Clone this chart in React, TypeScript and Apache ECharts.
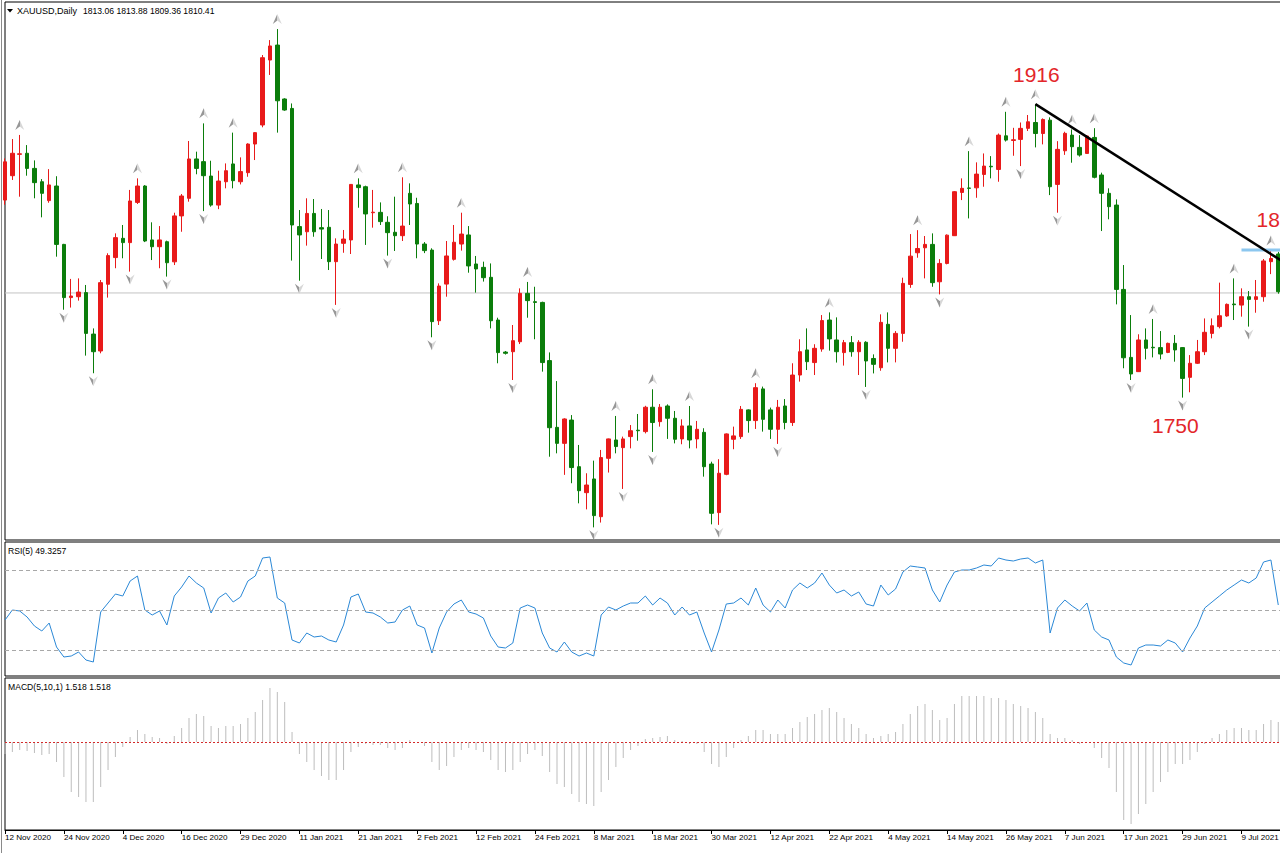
import React, { useEffect, useRef } from "react";
import * as echarts from "echarts";

const tickLabels = ["12 Nov 2020","24 Nov 2020","4 Dec 2020","16 Dec 2020","29 Dec 2020","11 Jan 2021","21 Jan 2021","2 Feb 2021","12 Feb 2021","24 Feb 2021","8 Mar 2021","18 Mar 2021","30 Mar 2021","12 Apr 2021","22 Apr 2021","4 May 2021","14 May 2021","26 May 2021","7 Jun 2021","17 Jun 2021","29 Jun 2021","9 Jul 2021"];

const opens = [1862.6,1876.3,1888.3,1888.9,1880.4,1872.9,1862.3,1870.5,1837.7,1807.8,
1808.3,1810.6,1787.3,1777.8,1815.3,1830.3,1841.1,1838.7,1861.3,1870.5,
1840.2,1836.4,1839.2,1827.9,1853.7,1863.6,1885.7,1884.2,1876.1,1859.8,
1872.9,1882.9,1872.9,1878.0,1894.1,1904.8,1941.3,1949.7,1919.4,1914.1,
1847.7,1844.8,1855.1,1847.1,1847.3,1828.0,1838.3,1840.2,1871.1,1870.1,
1855.5,1855.7,1850.1,1844.5,1842.6,1866.4,1860.7,1837.9,1834.5,1794.8,
1815.4,1829.3,1837.9,1843.0,1826.7,1824.8,1819.2,1795.2,1777.2,1777.4,
1783.0,1810.2,1805.5,1805.1,1772.4,1734.9,1725.9,1739.0,1712.8,1698.2,
1705.9,1684.7,1717.5,1727.8,1723.5,1729.7,1733.3,1732.5,1746.2,1738.1,
1746.9,1740.0,1728.4,1735.7,1728.4,1732.1,1714.3,1687.0,1708.5,1728.2,
1729.7,1744.7,1738.7,1756.5,1744.7,1733.8,1746.9,1737.6,1764.3,1778.4,
1771.3,1778.9,1795.2,1784.0,1776.9,1782.5,1777.4,1782.7,1773.6,1768.4,
1792.8,1779.3,1787.7,1815.2,1833.0,1835.8,1837.7,1816.7,1827.0,1842.6,
1866.9,1869.4,1869.5,1877.0,1881.6,1879.8,1898.7,1896.1,1896.7,1902.9,
1906.2,1900.0,1907.5,1871.4,1890.3,1899.1,1892.2,1888.8,1897.8,1876.7,
1866.4,1859.8,1812.4,1774.2,1766.2,1784.0,1779.9,1779.7,1777.0,1782.1,
1779.7,1763.0,1770.9,1777.4,1787.7,1791.5,1797.5,1804.2,1803.6,1808.3,
1806.8,1808.3,1828.0,1832.3];

const highs = [1886.0,1896.9,1899.2,1893.5,1884.9,1874.4,1880.0,1876.0,1838.0,1818.3,
1818.6,1814.9,1790.5,1817.7,1832.7,1843.9,1848.6,1868.3,1874.8,1871.0,
1850.1,1848.0,1839.8,1855.5,1866.0,1895.8,1889.8,1905.7,1884.7,1879.1,
1883.2,1900.5,1886.6,1894.5,1900.8,1944.1,1952.5,1958.7,1919.8,1916.9,
1857.0,1863.6,1863.2,1857.6,1857.0,1841.1,1845.8,1871.6,1874.8,1870.7,
1868.3,1861.3,1853.5,1864.5,1875.4,1872.0,1863.9,1839.0,1835.5,1815.8,
1839.6,1848.6,1855.5,1848.0,1831.2,1828.0,1827.0,1796.5,1777.8,1792.4,
1813.0,1816.6,1813.9,1805.5,1777.0,1760.9,1740.0,1741.8,1725.0,1709.1,
1716.2,1722.2,1728.6,1741.3,1729.7,1736.2,1742.4,1747.0,1756.3,1748.0,
1747.8,1744.1,1739.4,1746.9,1738.5,1734.4,1715.6,1717.0,1731.5,1735.3,
1746.9,1745.0,1759.7,1757.8,1746.0,1750.3,1750.8,1770.9,1784.4,1790.5,
1781.6,1798.0,1799.5,1796.7,1784.0,1786.2,1783.9,1783.3,1775.9,1798.4,
1799.5,1789.0,1819.0,1843.5,1845.7,1842.4,1843.9,1829.4,1843.3,1867.7,
1874.8,1890.1,1883.8,1888.8,1887.3,1900.0,1912.2,1903.2,1906.2,1910.4,
1916.5,1908.5,1909.1,1895.7,1901.0,1902.3,1899.1,1899.1,1903.0,1878.0,
1869.2,1863.0,1826.1,1798.0,1787.2,1790.5,1795.8,1789.0,1782.5,1786.8,
1780.0,1775.5,1784.0,1796.1,1796.1,1816.2,1804.5,1818.6,1813.0,1811.5,
1817.7,1829.5,1834.2,1833.5];

const lows = [1860.0,1873.9,1864.5,1876.3,1863.6,1852.9,1861.1,1830.8,1801.0,1802.2,
1806.1,1775.2,1765.3,1776.5,1807.8,1824.3,1829.9,1822.4,1860.4,1839.0,
1828.9,1824.3,1819.6,1826.1,1844.8,1861.7,1877.1,1856.4,1858.9,1857.5,
1869.2,1869.2,1871.4,1875.7,1885.1,1903.5,1932.9,1900.5,1912.8,1828.6,
1817.3,1837.0,1842.0,1829.5,1823.3,1803.7,1833.0,1832.3,1858.3,1837.4,
1847.1,1848.6,1831.4,1834.0,1839.6,1848.6,1829.9,1832.8,1785.5,1792.4,
1808.3,1828.6,1834.2,1821.8,1810.6,1816.8,1790.5,1770.9,1775.8,1761.5,
1781.7,1796.5,1784.4,1766.2,1718.4,1720.3,1708.2,1703.5,1692.2,1688.8,
1678.7,1681.4,1709.5,1720.3,1700.3,1723.1,1727.4,1731.5,1721.1,1735.3,
1728.4,1725.9,1725.4,1723.1,1723.1,1707.2,1680.4,1680.1,1708.0,1722.6,
1728.4,1731.9,1734.0,1732.5,1728.4,1725.6,1733.8,1735.7,1760.6,1767.1,
1764.3,1777.4,1778.0,1771.3,1769.6,1774.6,1764.3,1757.6,1765.2,1766.7,
1771.4,1771.4,1783.0,1813.3,1830.2,1818.6,1813.9,1809.6,1826.5,1842.4,
1862.6,1852.3,1863.9,1870.1,1874.8,1872.9,1895.5,1887.5,1881.7,1901.4,
1892.2,1893.9,1865.4,1855.5,1888.0,1883.6,1887.0,1888.5,1874.8,1845.2,
1851.8,1804.0,1768.1,1761.5,1766.0,1773.1,1774.2,1773.1,1776.6,1771.8,
1751.6,1754.6,1770.5,1775.5,1784.9,1790.5,1797.0,1795.2,1797.1,1791.5,
1799.3,1805.5,1821.0,1810.0];

const closes = [1884.1,1888.9,1888.6,1880.4,1872.4,1866.4,1871.1,1837.7,1807.8,1808.7,
1810.9,1787.7,1777.4,1816.2,1831.4,1841.5,1838.7,1862.1,1870.5,1839.6,
1836.4,1840.2,1827.4,1853.7,1864.9,1885.7,1880.4,1876.3,1859.8,1873.3,
1879.1,1873.5,1878.6,1894.1,1900.5,1942.6,1949.2,1918.4,1913.2,1848.6,
1843.0,1855.1,1844.8,1846.3,1828.0,1837.9,1840.7,1871.4,1869.6,1854.8,
1855.8,1850.5,1844.3,1842.6,1848.0,1860.4,1837.9,1834.2,1794.3,1814.3,
1831.2,1838.9,1843.5,1825.6,1823.9,1819.0,1794.8,1776.9,1776.5,1783.6,
1810.2,1806.1,1805.1,1771.3,1734.7,1725.9,1739.6,1712.3,1699.3,1702.5,
1685.3,1717.9,1728.4,1724.1,1728.4,1733.0,1733.0,1746.2,1737.6,1746.2,
1740.0,1728.2,1735.7,1727.8,1733.8,1712.8,1686.6,1709.1,1731.2,1730.1,
1745.0,1738.7,1757.2,1739.4,1733.8,1746.2,1737.6,1764.3,1777.4,1771.8,
1779.3,1794.9,1784.6,1777.4,1782.5,1777.4,1782.7,1772.2,1770.3,1793.9,
1779.3,1787.7,1815.8,1831.1,1835.4,1837.7,1816.2,1827.0,1842.9,1867.3,
1869.2,1869.2,1877.2,1881.7,1881.3,1899.1,1896.3,1896.5,1902.9,1906.6,
1900.0,1907.9,1870.1,1891.1,1900.1,1892.6,1887.9,1898.6,1875.4,1866.4,
1858.9,1812.4,1774.0,1764.9,1784.0,1779.3,1779.6,1776.1,1782.1,1778.4,
1762.4,1770.9,1777.4,1788.3,1792.0,1797.6,1804.0,1803.8,1808.3,1806.8,
1808.3,1828.4,1829.8,1811.1];

const fractalUp = [2,18,27,31,37,48,54,62,71,83,88,93,102,112,124,131,136,140,145,148,156,167,172];
const fractalDown = [8,12,17,22,27,40,45,52,58,69,80,84,88,97,105,117,127,138,143,153,160,169];

const rsi = [45,50,49.5,46.5,42,39.5,43.5,31.5,26.5,27,
29,25,24,49,53.5,58,57,64.5,67,50,
47.5,49.5,42.5,57,61.5,67,63.5,61,48.5,56,
58.5,54,56.5,64.5,67,76,76.5,56,53.5,35,
33.5,38.5,36.5,37,35,34,42.5,56.5,58,49,
48.5,46.5,43.5,44,50,52,42.5,41,28.5,41,
49,53,55,49,48,46,37,31.5,31,33.5,
51,52.5,51,38.5,31,29,34,29,27,28.5,
27,47.5,51.5,50,52,53.5,53.5,57,52.5,56,
53.5,47.5,51.5,47.5,49,38.5,29,40,53,53.5,
56,52.5,61,52.5,49,55,51,60,63.5,61,
63.5,68.5,62.5,58.5,60,57,59,53,52,62.5,
57.5,60.5,69,72,71.5,71,60,54,62.5,69,
70,70,71,72.5,72,76,75,74.5,75.5,76,
73.5,75,38.5,51,55,52,49.5,53.5,40,36.5,
35,26.5,23.5,22.5,31,32.5,32.5,32,35,33.5,
29,36,42,51,54,57,60,62.5,65,63.5,
66,74,75,52.5];

const macd = [-4.0,-3.3,-2.7,-3.0,-3.7,-4.3,-4.0,-6.7,-11.7,-16.7,
-18.3,-20.0,-20.0,-15.0,-9.3,-5.0,-1.7,1.7,4.0,2.7,
1.7,1.3,-0.7,2.0,4.7,8.0,9.3,8.7,5.3,4.7,
5.3,5.3,6.0,8.0,10.0,14.0,18.0,16.7,13.3,3.3,
-4.0,-6.7,-9.3,-11.3,-12.7,-12.7,-9.3,-3.3,-1.7,-0.7,
-1.0,-1.0,-2.0,-2.7,-2.0,0.7,0.0,-1.3,-6.7,-9.3,
-8.0,-5.0,-2.7,-2.0,-2.7,-3.3,-6.0,-9.3,-10.0,-9.3,
-6.7,-4.0,-2.7,-4.7,-10.0,-14.0,-15.0,-17.3,-20.0,-20.7,
-21.3,-16.7,-12.7,-8.3,-5.3,-2.7,-1.3,1.0,1.3,1.7,
2.0,0.7,0.3,-0.7,-0.7,-3.3,-7.3,-8.3,-5.0,-2.0,
0.7,2.0,4.0,4.0,2.7,2.7,2.7,4.7,6.7,8.3,
9.3,10.7,11.3,10.0,8.0,6.0,4.7,2.7,1.3,2.0,
2.7,3.3,6.0,9.3,12.0,12.7,10.7,7.3,8.0,12.7,
15.3,15.3,15.3,15.3,14.7,14.7,14.0,12.7,12.0,11.3,
10.0,8.0,2.7,1.3,1.3,0.7,-0.7,0.0,-2.0,-5.3,
-8.7,-16.7,-26.0,-27.3,-24.0,-20.7,-16.7,-13.3,-10.0,-7.3,
-7.3,-6.0,-3.3,-0.7,1.3,2.7,4.0,4.7,4.7,4.0,
4.0,6.0,7.3,6.7];

const lastPrice = 1810.41;
const rsiLevels = [30, 50, 70];
const trendLine = [[140, 1916.5], [175, 1824.4]];
const levelLine = [[168, 1834.5], [175, 1834.5]];
const headerSymbol = "XAUUSD,Daily";
const headerValues = "1813.06 1813.88 1809.36 1810.41";
const rsiTitle = "RSI(5) 49.3257";
const macdTitle = "MACD(5,10,1) 1.518 1.518";
const annotationTexts = ["1916", "1750", "18"];

const SLOTS = 176;
const FONT = "'Liberation Sans', Arial, sans-serif";
const UP = "#e81a1a";
const DOWN = "#0b7d0b";

export default function App() {
  const ref = useRef<HTMLDivElement>(null);
  useEffect(() => {
    if (!ref.current) return;
    const chart = echarts.init(ref.current, undefined, { renderer: "svg" });
    const categories = Array.from({ length: SLOTS }, (_, i) => String(i));
    const candles = opens.map((o, i) => [o, closes[i], lows[i], highs[i]]);
    const arrowGrad = new echarts.graphic.LinearGradient(0, 0, 1, 0, [
      { offset: 0, color: "#7d7d7d" },
      { offset: 0.5, color: "#7d7d7d" },
      { offset: 0.5, color: "#cdcdcd" },
      { offset: 1, color: "#cdcdcd" },
    ]);
    const gridBase = { show: true, borderColor: "#000", borderWidth: 1, left: 5, width: 1288 };
    const hiddenX = (gi: number) => ({
      type: "category", gridIndex: gi, data: categories, boundaryGap: false, show: false,
    });
    const txt = (text: string, x: number, y: number, size: number, fill = "#000") => ({
      type: "text", x, y, silent: true,
      style: { text, fontSize: size, fontFamily: FONT, fill, verticalAlign: "middle", align: "left" },
    });
    chart.setOption({
      animation: false,
      backgroundColor: "#fff",
      grid: [
        { ...gridBase, top: 2, height: 538 },
        { ...gridBase, top: 542, height: 134 },
        { ...gridBase, top: 678, height: 152 },
      ],
      xAxis: [
        hiddenX(0),
        hiddenX(1),
        {
          type: "category", gridIndex: 2, data: categories, boundaryGap: false, position: "bottom",
          axisLine: { show: true, onZero: false, lineStyle: { color: "#000", width: 1 } },
          axisTick: { show: true, interval: 7, length: 4, lineStyle: { color: "#000" } },
          axisLabel: {
            show: true, interval: 7, margin: 3, align: "left", color: "#000",
            fontSize: 8.1, fontFamily: FONT, padding: 0,
            formatter: (_v: string, idx: number) => (idx % 8 === 0 ? tickLabels[idx / 8] ?? "" : ""),
          },
          splitLine: { show: false },
        },
      ],
      yAxis: [
        { type: "value", gridIndex: 0, min: 1671.6, max: 1973.9, show: false, splitLine: { show: false } },
        { type: "value", gridIndex: 1, min: 17, max: 84, show: false, splitLine: { show: false } },
        { type: "value", gridIndex: 2, min: -29.33, max: 21.33, show: false, splitLine: { show: false } },
      ],
      series: [
        {
          type: "line", xAxisIndex: 0, yAxisIndex: 0, z: 1, symbol: "none", silent: true,
          data: [[0, lastPrice], [SLOTS - 1, lastPrice]],
          lineStyle: { color: "#c3c3c3", width: 1 },
        },
        {
          type: "candlestick", xAxisIndex: 0, yAxisIndex: 0, z: 2, barWidth: 4, clip: true,
          data: candles,
          itemStyle: { color: UP, color0: DOWN, borderColor: UP, borderColor0: DOWN, borderWidth: 1 },
        },
        {
          type: "scatter", xAxisIndex: 0, yAxisIndex: 0, z: 3, silent: true,
          symbol: "path://M5 0 L10 10 L5 6.5 L0 10 Z", symbolSize: [9, 10], symbolOffset: [0, -10],
          itemStyle: { color: arrowGrad },
          data: fractalUp.map((i) => [i, highs[i]]),
        },
        {
          type: "scatter", xAxisIndex: 0, yAxisIndex: 0, z: 3, silent: true,
          symbol: "path://M0 0 L5 3.5 L10 0 L5 10 Z", symbolSize: [9, 10], symbolOffset: [0, 8],
          itemStyle: { color: arrowGrad },
          data: fractalDown.map((i) => [i, lows[i]]),
        },
        {
          type: "line", xAxisIndex: 0, yAxisIndex: 0, z: 4, symbol: "none", silent: true,
          data: levelLine, lineStyle: { color: "#8cc7ef", width: 3 },
        },
        {
          type: "line", xAxisIndex: 0, yAxisIndex: 0, z: 5, symbol: "none", silent: true,
          data: trendLine, lineStyle: { color: "#000", width: 2.5 },
        },
        {
          type: "line", xAxisIndex: 1, yAxisIndex: 1, symbol: "none", silent: true,
          data: rsi, lineStyle: { color: "#2b88d6", width: 1 },
          markLine: {
            silent: true, symbol: ["none", "none"], label: { show: false },
            lineStyle: { color: "#a8a8a8", type: [4, 3], width: 1 },
            data: rsiLevels.map((v) => ({ yAxis: v })),
          },
        },
        {
          type: "bar", xAxisIndex: 2, yAxisIndex: 2, barWidth: 1, silent: true,
          data: macd, itemStyle: { color: "#bdbdbd" },
          markLine: {
            silent: true, symbol: ["none", "none"], label: { show: false },
            lineStyle: { color: "#d42a2a", type: [2, 2], width: 1 },
            data: [{ yAxis: 0 }],
          },
        },
      ],
      graphic: [
        { type: "line", silent: true, shape: { x1: 1.5, y1: 0, x2: 1.5, y2: 853 }, style: { stroke: "#8a8a8a", lineWidth: 1 } },
        { type: "polygon", silent: true, shape: { points: [[7, 9], [13, 9], [10, 12.5]] }, style: { fill: "#000" } },
        txt(headerSymbol, 17, 11, 9),
        txt(headerValues, 83, 11, 8.6),
        txt(rsiTitle, 8, 551, 8.6),
        txt(macdTitle, 8, 687, 8.6),
        txt(annotationTexts[0], 1013, 74.5, 21, "#e3262a"),
        txt(annotationTexts[1], 1152, 425, 21, "#e3262a"),
        txt(annotationTexts[2], 1256.5, 219.5, 21, "#e3262a"),
      ],
    });
    return () => chart.dispose();
  }, []);
  return (
    <div style={{ position: "absolute", left: 0, top: 0, width: 1280, height: 853, overflow: "hidden", background: "#fff" }}>
      <div ref={ref} style={{ width: 1300, height: 853 }} />
    </div>
  );
}
